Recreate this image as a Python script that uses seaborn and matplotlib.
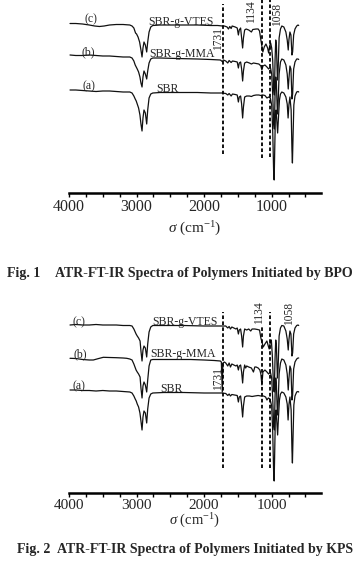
import pandas as pd
import matplotlib
matplotlib.use("Agg")
import matplotlib.pyplot as plt
import seaborn as sns

# --- DATA ---
# wavenumber (cm-1) and transmittance relative to each trace's baseline (a.u.)
SAMPLES = ["SBR", "SBR-g-MMA", "SBR-g-VTES"]
TAGS = ["(a)", "(b)", "(c)"]
TICK_WN = [4000, 3000, 2000, 1000]
MARK_LABELS = ["1731", "1134", "1058"]
BPO_MARK_WN = [1725, 1137, 1032]
KPS_MARK_WN = [1725, 1145, 1025]
CAPTIONS = [("Fig. 1", "ATR-FT-IR Spectra of Polymers Initiated by BPO"),
            ("Fig. 2", "ATR-FT-IR Spectra of Polymers Initiated by KPS")]

bpo_sbr = [(3985, 3), (3900, 3), (3800, 2.5), (3700, 2), (3600, 1.5), (3500, 2), (3400, 2),
           (3300, 1.5), (3200, 1), (3100, 1), (3067, 0), (3040, -3), (3020, -6), (3005, -8),
           (2990, -11), (2970, -15), (2950, -22), (2935, -31), (2919, -38), (2905, -25),
           (2890, -17), (2870, -20), (2850, -31), (2835, -17), (2815, -5), (2790, -1),
           (2760, 0), (2650, 0.5), (2400, 0.5), (2100, 0.5), (1900, 0), (1731, 0),
           (1680, -0.5), (1650, -2), (1630, -0.5), (1600, -3), (1580, -1), (1540, -1.5),
           (1510, -2), (1493, -9), (1480, -4), (1460, -3), (1445, -11), (1430, -25),
           (1418, -14), (1400, -4), (1370, -3), (1330, -3), (1300, -3.5), (1270, -2.5),
           (1230, -2), (1190, -2), (1160, -2.5), (1130, -2), (1100, -2.5), (1070, -5),
           (1045, -4), (1020, -5), (1000, -12), (985, -37), (970, -82), (963, -87),
           (955, -57), (945, -22), (935, -17), (925, -27), (912, -40), (900, -25),
           (885, -7), (870, -1), (850, 1), (820, 0), (790, -4), (770, -11), (757, -25),
           (745, -12), (730, -4), (712, -17), (700, -57), (693, -70), (685, -47),
           (672, -12), (655, -3), (630, 1), (610, 1.5), (600, 1)]

bpo_mma = [(3985, 5), (3900, 4.5), (3800, 4.5), (3700, 5), (3600, 4.5), (3500, 4), (3400, 4),
           (3300, 3.5), (3200, 3), (3100, 3), (3067, 2), (3040, -1), (3020, -5), (3005, -7),
           (2990, -9), (2970, -12), (2950, -17), (2935, -23), (2919, -27), (2905, -17),
           (2890, -11), (2870, -14), (2850, -19), (2835, -11), (2815, -3), (2790, 1),
           (2760, 2), (2650, 2), (2400, 1.5), (2100, 1), (1900, 0.5), (1760, 0),
           (1731, -1.5), (1715, 0), (1680, -1), (1650, -3), (1630, -0.5), (1600, -2.5),
           (1580, -1), (1540, -1.5), (1510, -2), (1493, -8), (1480, -3), (1460, -2),
           (1445, -9), (1430, -21), (1418, -11), (1400, -3), (1370, -2), (1330, -3),
           (1300, -4), (1270, -3), (1230, -3.5), (1190, -4), (1160, -6), (1145, -10),
           (1130, -6), (1100, -5), (1070, -7), (1045, -9), (1020, -7), (1000, -14),
           (985, -34), (970, -64), (960, -69), (950, -34), (940, -17), (930, -24),
           (915, -54), (905, -44), (890, -14), (870, -2), (850, 1), (820, 0), (790, -5),
           (770, -14), (755, -29), (745, -19), (730, -6), (715, -9), (700, -39),
           (690, -34), (675, -9), (655, -2), (630, 1), (610, 1), (600, 0.5)]

bpo_vtes = [(3985, 2.5), (3900, 2.5), (3800, 2), (3700, 1), (3620, 0), (3550, -0.5),
            (3480, 0), (3400, 1), (3300, 1.5), (3200, 1.5), (3100, 1), (3067, 0),
            (3040, -2), (3025, -5), (3015, -7), (3000, -8), (2978, -11), (2955, -16),
            (2935, -24), (2919, -31), (2905, -22), (2890, -16), (2870, -19), (2850, -26),
            (2835, -16), (2815, -6), (2790, -1), (2760, 0.5), (2650, 1), (2400, 1),
            (2100, 1), (1900, 0.5), (1800, 0.5), (1730, 0), (1700, 0), (1660, -1),
            (1640, -3), (1620, -0.5), (1600, -2.5), (1585, 0), (1540, -1), (1510, -2),
            (1493, -9), (1480, -4), (1460, -2), (1445, -12), (1430, -22), (1418, -12),
            (1400, -4), (1378, -3), (1340, -4), (1300, -6), (1280, -3.5), (1230, -3),
            (1200, -3), (1180, -5), (1160, -14), (1131, -26), (1110, -21), (1085, -18),
            (1060, -22), (1045, -27), (1030, -20), (1015, -17), (1000, -22), (985, -34),
            (970, -64), (960, -69), (950, -34), (940, -14), (930, -19), (915, -54),
            (905, -44), (890, -12), (870, -3), (850, 0), (820, -1), (790, -6), (770, -14),
            (755, -24), (745, -14), (730, -6), (715, -9), (700, -29), (690, -26),
            (675, -9), (655, -3), (630, 0), (610, 1), (600, 0.5)]

kps_sbr = [(3985, 3), (3900, 3), (3800, 2.5), (3700, 2.5), (3600, 2), (3500, 2.5), (3400, 2),
           (3300, 2), (3200, 1.5), (3100, 1), (3067, 0), (3040, -3), (3020, -6), (3005, -8),
           (2990, -11), (2970, -14), (2950, -20), (2935, -28), (2919, -37), (2905, -24),
           (2890, -18), (2870, -20), (2850, -30), (2835, -16), (2815, -5), (2790, -1),
           (2760, 0), (2600, 0.5), (2300, 0.5), (2000, 0), (1800, 0), (1731, 0),
           (1680, -0.5), (1650, -2.5), (1630, -1), (1610, -3), (1590, -1.5), (1550, -2),
           (1510, -2.5), (1493, -9), (1480, -4), (1460, -3), (1445, -12), (1430, -24),
           (1418, -13), (1400, -4), (1370, -3), (1330, -3), (1290, -3.5), (1250, -3),
           (1200, -2.5), (1160, -3), (1120, -3), (1090, -4), (1070, -7), (1050, -5),
           (1025, -6), (1000, -13), (985, -38), (970, -83), (963, -88), (955, -58),
           (945, -22), (935, -17), (925, -28), (912, -42), (900, -25), (885, -7),
           (870, -1), (850, 1), (820, 0), (790, -4), (770, -11), (757, -27), (745, -12),
           (730, -4), (712, -17), (700, -57), (693, -70), (685, -47), (672, -12),
           (655, -3), (630, 1), (610, 1.5), (600, 1)]

kps_mma = [(3985, 1.7), (3900, 1.5), (3800, 0.5), (3700, 0), (3640, 0), (3560, 1.5),
           (3492, 2.7), (3400, 2.5), (3300, 2.3), (3200, 2), (3146, 1.7), (3100, 1),
           (3067, 0), (3040, -4), (3007, -10), (2990, -12), (2970, -14), (2948, -17),
           (2935, -28), (2919, -38), (2905, -26), (2890, -22), (2870, -25), (2850, -32),
           (2835, -20), (2815, -6), (2790, 0), (2760, 0.5), (2500, 0.5), (2200, 0.5),
           (2000, 0), (1850, -0.5), (1760, -1), (1745, -2), (1731, -32), (1722, -3),
           (1700, -2), (1680, -3), (1650, -6), (1630, -3), (1610, -7), (1590, -4),
           (1560, -5), (1530, -6), (1510, -5), (1493, -10), (1480, -6), (1460, -5),
           (1445, -12), (1430, -23), (1418, -12), (1400, -5), (1385, -8), (1370, -6),
           (1340, -7), (1300, -8), (1270, -12), (1250, -7), (1230, -7), (1200, -8),
           (1175, -10), (1160, -14), (1145, -25), (1130, -12), (1100, -10), (1070, -12),
           (1045, -14), (1020, -12), (1000, -18), (985, -38), (970, -66), (960, -70),
           (950, -36), (940, -18), (930, -25), (915, -55), (905, -45), (890, -14),
           (870, -3), (850, 1), (820, 0), (790, -5), (770, -14), (755, -30), (745, -19),
           (730, -6), (715, -9), (700, -40), (690, -35), (675, -9), (655, -2), (630, 1),
           (610, 2), (600, 2)]

kps_vtes = [(3985, 1), (3900, 1.5), (3800, 1), (3700, 1), (3600, 1.5), (3500, 1), (3400, 1),
            (3300, 1), (3200, 0.5), (3100, 0.5), (3067, 0), (3040, -3), (3007, -8),
            (2990, -10), (2970, -12), (2948, -15), (2935, -25), (2919, -35), (2905, -24),
            (2890, -20), (2870, -22), (2850, -31), (2835, -18), (2815, -6), (2790, -1),
            (2760, 0.5), (2600, 0.5), (2300, 0.5), (2000, 0), (1800, 0), (1731, 0),
            (1680, 0), (1650, -2), (1630, -0.5), (1610, -3), (1590, -1), (1560, -2),
            (1530, -3), (1510, -2), (1493, -8), (1480, -4), (1460, -3), (1445, -10),
            (1430, -21), (1418, -10), (1400, -3), (1370, -4), (1340, -3), (1310, -5),
            (1290, -3), (1250, -3), (1210, -3.5), (1180, -4), (1160, -12), (1125, -21),
            (1100, -18), (1071, -15), (1050, -20), (1037, -23), (1020, -16), (1005, -14),
            (990, -30), (972, -62), (962, -66), (950, -32), (940, -14), (930, -20),
            (915, -52), (905, -42), (890, -10), (870, -2), (850, 0.5), (820, 0),
            (790, -5), (770, -13), (755, -24), (745, -14), (730, -5), (715, -8),
            (700, -30), (690, -27), (675, -8), (655, -2), (630, 0.5), (610, 1), (600, 0.5)]

# --- LAYOUT (pixels of a 358x579 canvas) ---
W, H = 358, 579
AX_LEFT, AX_RIGHT, AX_H = 69, 321, 193
AX_BOTTOMS = [193, 493]
OFFSETS = [100, 133, 167]          # vertical stacking of (a), (b), (c)
XLIM = (4000, 270)
SERIF = ["Liberation Serif", "DejaVu Serif"]

sns.set_theme(style="white")
plt.rcParams["font.family"] = SERIF
plt.rcParams["mathtext.fontset"] = "custom"
plt.rcParams["mathtext.rm"] = "Liberation Serif"
plt.rcParams["mathtext.it"] = "Liberation Serif:italic"


def build_frame(curves):
    rows = []
    for name, off, pts in zip(SAMPLES, OFFSETS, curves):
        for wn, t in pts:
            rows.append({"sample": name, "wn": wn, "y": t + off})
    return pd.DataFrame(rows)


def draw_panel(ax, curves, mark_wn, cfg):
    df = build_frame(curves)
    sns.lineplot(data=df, x="wn", y="y", units="sample", estimator=None,
                 color="#111111", lw=0.9, ax=ax, legend=False)
    ax.set_xlim(*XLIM)
    ax.set_ylim(0, AX_H)
    for s in ["left", "top", "right"]:
        ax.spines[s].set_visible(False)
    ax.spines["bottom"].set_linewidth(1.8)
    ax.spines["bottom"].set_color("black")
    ax.set_yticks([])
    ax.set_ylabel("")
    ax.set_xticks(TICK_WN)
    ax.set_xticks(list(range(3750, 400, -250)), minor=True)
    ax.set_xticklabels([str(t) for t in TICK_WN], fontsize=cfg["tick_fs"])
    ax.tick_params(axis="x", which="both", direction="out", length=3, width=1,
                   color="black", bottom=True, pad=1)
    ax.set_xlabel(r"$\sigma$ (cm$^{-1}$)", fontsize=cfg["label_fs"], labelpad=cfg["labelpad"])

    # marker lines for the assigned bands
    for wn, (y0, y1) in zip(mark_wn, cfg["marks"]):
        ax.plot([wn, wn], [y0, y1], color="black", lw=1.3, ls=(0, (2, 1.3)))
    for txt, (x, y) in zip(MARK_LABELS, cfg["mark_txt"]):
        ax.text(x, y, txt, rotation=90, ha="center", va="center", fontsize=8.3)

    for tag, name, (tx, ty), (nx, ny) in zip(TAGS, SAMPLES, cfg["tag_pos"], cfg["name_pos"]):
        ax.text(tx, ty, tag, ha="center", va="center", fontsize=8.5)
        ax.text(nx, ny, name, ha="center", va="center", fontsize=8.5)


fig = plt.figure(figsize=(W / 100, H / 100), dpi=100)

panels = [
    dict(curves=[bpo_sbr, bpo_mma, bpo_vtes], mark_wn=BPO_MARK_WN, labelpad=4,
         tick_fs=11.5, label_fs=11,
         marks=[(39, 189), (35, 193), (36, 193)],
         mark_txt=[(1793, 154), (1312, 181), (919, 179)],
         tag_pos=[(3711, 107), (3711, 141), (3674, 174)],
         name_pos=[(2541, 104.5), (2333, 139.5), (2348, 171.5)],
         caption_y=273),
    dict(curves=[kps_sbr, kps_mma, kps_vtes], mark_wn=KPS_MARK_WN, labelpad=0.5,
         tick_fs=11, label_fs=10.5,
         marks=[(25, 181), (25, 167), (25, 181)],
         mark_txt=[(1800, 115), (1185, 180), (741, 180)],
         tag_pos=[(3859, 107), (3837, 139), (3859, 171)],
         name_pos=[(2481, 104.5), (2319, 139.5), (2282, 171.5)],
         caption_y=550),
]

for i, (bottom, p) in enumerate(zip(AX_BOTTOMS, panels)):
    ax = fig.add_axes([AX_LEFT / W, (H - bottom) / H, (AX_RIGHT - AX_LEFT) / W, AX_H / H])
    ax.set_facecolor("none")
    draw_panel(ax, p["curves"], p["mark_wn"], p)
    fig_lbl, fig_txt = CAPTIONS[i]
    cy = 1 - p["caption_y"] / H
    fig.text((7 + 10 * i) / W, cy, fig_lbl, ha="left", va="center",
             fontsize=10, fontweight="bold")
    fig.text(353 / W, cy, fig_txt, ha="right", va="center",
             fontsize=10, fontweight="bold")

fig.savefig("out.png", dpi=100, facecolor="white")
